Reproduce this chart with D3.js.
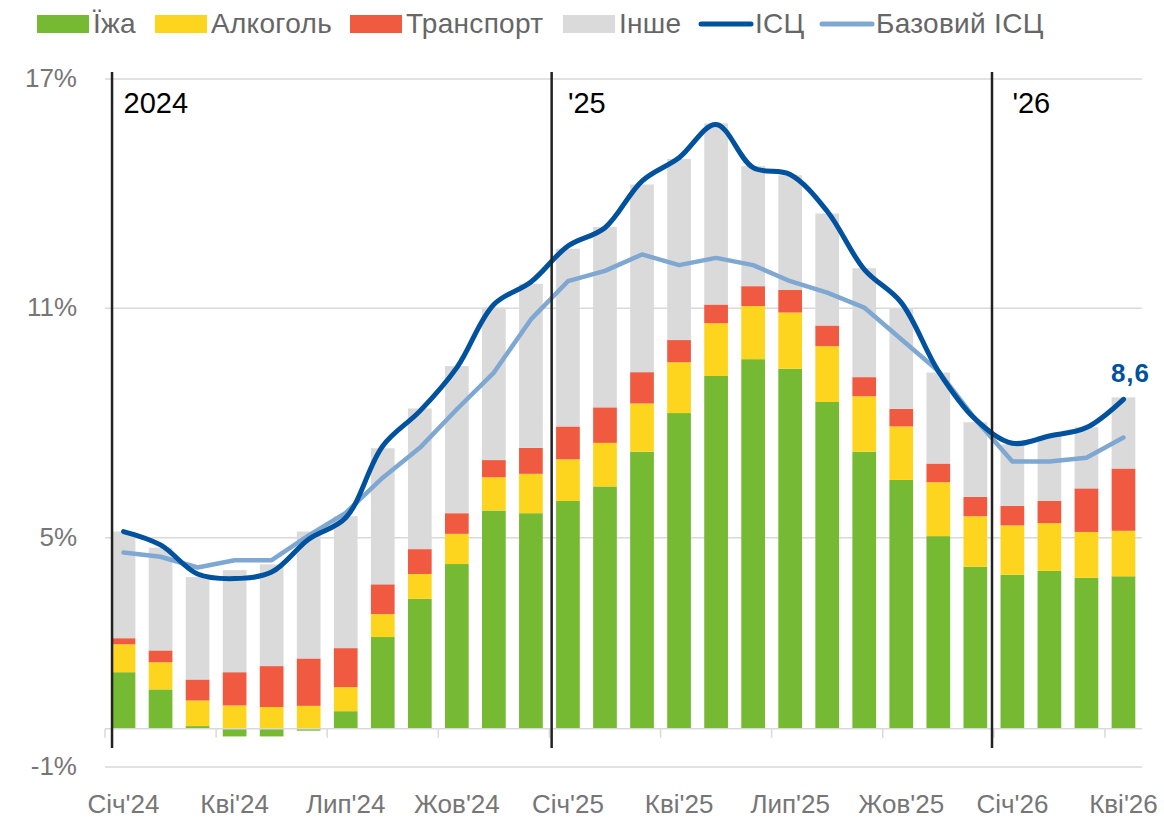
<!DOCTYPE html>
<html><head><meta charset="utf-8">
<script src="https://cdn.jsdelivr.net/npm/d3@7"></script>
<style>
html,body{margin:0;padding:0;background:#fff;}
svg{display:block;font-family:"Liberation Sans",Arial,sans-serif;}
</style></head>
<body><svg id="c" width="1164" height="818"></svg>
<script>
const months = ["Січ'24","Лют'24","Бер'24","Кві'24","Тра'24","Чер'24","Лип'24","Сер'24","Вер'24","Жов'24","Лис'24","Гру'24",
"Січ'25","Лют'25","Бер'25","Кві'25","Тра'25","Чер'25","Лип'25","Сер'25","Вер'25","Жов'25","Лис'25","Гру'25",
"Січ'26","Лют'26","Бер'26","Кві'26"];
const food      = [1.48,1.03,0.07,-0.20,-0.20,-0.05,0.46,2.40,3.40,4.31,5.71,5.64,5.96,6.34,7.25,8.26,9.23,9.67,9.42,8.55,7.25,6.51,5.04,4.24,4.03,4.13,3.95,3.99];
const alcohol   = [0.73,0.71,0.67,0.61,0.57,0.60,0.63,0.60,0.65,0.79,0.87,1.03,1.09,1.14,1.26,1.33,1.38,1.39,1.47,1.46,1.45,1.40,1.41,1.32,1.29,1.25,1.20,1.19];
const transport = [0.16,0.31,0.55,0.87,1.07,1.24,1.02,0.78,0.65,0.54,0.45,0.68,0.86,0.93,0.82,0.58,0.49,0.52,0.59,0.54,0.50,0.46,0.49,0.51,0.51,0.58,1.14,1.63];
const other     = [2.79,2.69,2.68,2.67,2.66,3.32,3.45,3.56,3.68,3.85,3.99,4.29,4.65,4.72,4.91,4.74,4.74,3.14,3.00,2.93,2.85,2.62,2.38,1.95,1.61,1.70,1.60,1.86];
const cpi       = [5.16,4.81,4.05,3.93,4.10,4.96,5.52,7.40,8.31,9.45,11.10,11.69,12.63,13.11,14.33,14.94,15.81,14.68,14.50,13.54,12.02,11.15,9.36,8.10,7.47,7.66,7.88,8.62];
const coreCpi   = [4.61,4.50,4.22,4.41,4.41,5.06,5.65,6.57,7.35,8.36,9.32,10.71,11.71,11.98,12.41,12.13,12.32,12.13,11.71,11.41,11.02,10.19,9.36,8.10,6.99,6.99,7.09,7.62];
const yTicks = [-1, 5, 11, 17];
const yearLabels = ["2024", "'25", "'26"];
const yearStartIdx = [0, 12, 24];
const dividerPos = [-0.31, 11.56, 23.45];
const seriesNames = ["Їжа","Алкоголь","Транспорт","Інше"];
const lineNames = ["ІСЦ","Базовий ІСЦ"];

const colors = {"Їжа":"#76b932","Алкоголь":"#fdd51f","Транспорт":"#f05a40","Інше":"#dadada"};
const lineColors = {"ІСЦ":"#00519e","Базовий ІСЦ":"#7ea8d2"};

const svg = d3.select("#c");
const L = 105, R = 1142;
const x = d3.scaleBand().domain(months).range([L, R]).paddingInner(0.36).paddingOuter(0.18);
const y = d3.scaleLinear().domain([-1, 17]).range([767, 79]);
const xc = d => x(d) + x.bandwidth() / 2;
const xi = d3.scaleLinear().domain([0, months.length - 1]).range([xc(months[0]), xc(months[months.length - 1])]);

// gridlines
svg.append("g").selectAll("line").data(yTicks).join("line")
  .attr("x1", L).attr("x2", R).attr("y1", d => y(d)).attr("y2", d => y(d))
  .attr("stroke", "#d9d9d9").attr("stroke-width", 1.5);

// y labels
svg.append("g").selectAll("text").data(yTicks).join("text")
  .attr("x", 77).attr("y", d => y(d) + 8).attr("text-anchor", "end")
  .attr("font-size", 26).attr("fill", "#767676").text(d => d + "%");

// stacked bars
const table = months.map((m, i) => ({m, "Їжа": food[i], "Алкоголь": alcohol[i], "Транспорт": transport[i], "Інше": other[i]}));
const stack = d3.stack().keys(seriesNames).offset(d3.stackOffsetDiverging)(table);
svg.append("g").selectAll("g").data(stack).join("g").attr("fill", d => colors[d.key])
  .selectAll("rect").data(d => d).join("rect")
  .attr("x", d => x(d.data.m)).attr("width", x.bandwidth())
  .attr("y", d => y(Math.max(d[0], d[1]))).attr("height", d => Math.abs(y(d[0]) - y(d[1])));

// x axis (zero line) with ticks at every 3rd band boundary
const xAxis = svg.append("g");
xAxis.append("line").attr("x1", L).attr("x2", R).attr("y1", y(0)).attr("y2", y(0))
  .attr("stroke", "#d9d9d9").attr("stroke-width", 1.5);
const tickIdx = d3.range(0, months.length + 1, 3);
xAxis.selectAll("line.tk").data(tickIdx).join("line").attr("class", "tk")
  .attr("x1", i => L + i * x.step()).attr("x2", i => L + i * x.step())
  .attr("y1", y(0)).attr("y2", y(0) + 9).attr("stroke", "#d9d9d9").attr("stroke-width", 1.5);
xAxis.selectAll("text").data(months.filter((m, i) => i % 3 === 0)).join("text")
  .attr("x", d => xc(d)).attr("y", 813).attr("text-anchor", "middle")
  .attr("font-size", 26).attr("fill", "#767676").text(d => d);

// lines
svg.append("path").datum(coreCpi).attr("fill", "none").attr("stroke", lineColors["Базовий ІСЦ"])
  .attr("stroke-width", 4.5).attr("stroke-linejoin", "round").attr("stroke-linecap", "round")
  .attr("d", d3.line().x((d, i) => xi(i)).y(d => y(d)).curve(d3.curveLinear));
svg.append("path").datum(cpi).attr("fill", "none").attr("stroke", lineColors["ІСЦ"])
  .attr("stroke-width", 5).attr("stroke-linejoin", "round").attr("stroke-linecap", "round")
  .attr("d", d3.line().x((d, i) => xi(i)).y(d => y(d)).curve(d3.curveCatmullRom.alpha(0.5)));

// dividers & year labels
svg.append("g").selectAll("line").data(dividerPos).join("line")
  .attr("x1", d => xi(d)).attr("x2", d => xi(d)).attr("y1", 72).attr("y2", 748)
  .attr("stroke", "#222").attr("stroke-width", 2.5);
svg.append("g").selectAll("text").data(yearLabels).join("text")
  .attr("x", (d, i) => xi(yearStartIdx[i])).attr("y", 113)
  .attr("font-size", 29).attr("fill", "#000").text(d => d);

// end label
const last = cpi.length - 1;
svg.append("text").attr("x", xi(last) + 7).attr("y", 382).attr("text-anchor", "middle")
  .attr("font-size", 26).attr("font-weight", "bold").attr("letter-spacing", 1).attr("fill", lineColors["ІСЦ"])
  .text(d3.format(".1f")(cpi[last]).replace(".", ","));

// legend
const legendX = [37, 155, 350, 563, 699, 820];
const lg = svg.append("g");
const items = seriesNames.map(n => ({n, type: "rect"})).concat(lineNames.map(n => ({n, type: "line"})));
items.forEach((it, i) => {
  const lx = legendX[i];
  if (it.type === "rect") {
    lg.append("rect").attr("x", lx).attr("y", 15).attr("width", 52).attr("height", 18).attr("fill", colors[it.n]);
  } else {
    lg.append("line").attr("x1", lx + 2).attr("x2", lx + 52).attr("y1", 24).attr("y2", 24)
      .attr("stroke", lineColors[it.n]).attr("stroke-width", 5).attr("stroke-linecap", "round");
  }
  lg.append("text").attr("x", lx + 56).attr("y", 32.5)
    .attr("font-size", 28).attr("letter-spacing", 0.3).attr("fill", "#666").text(it.n);
});
</script></body></html>
